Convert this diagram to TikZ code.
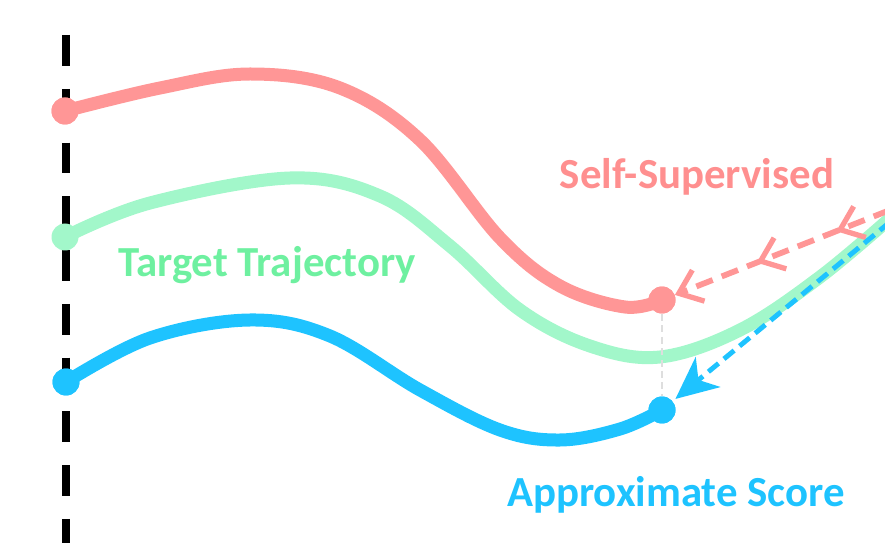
\documentclass[tikz,border=0pt]{standalone}
\usepackage{fontspec}
\setmainfont{Carlito}
\usepackage{tikz}
\usetikzlibrary{arrows.meta,decorations.markings}

\definecolor{trajpink}{RGB}{255,150,150}
\definecolor{trajgreen}{RGB}{162,247,202}
\definecolor{textgreen}{RGB}{110,240,160}
\definecolor{scoreblue}{RGB}{30,195,255}
\definecolor{guidegray}{RGB}{222,222,222}

\begin{document}
\begin{tikzpicture}[x=0.02cm,y=-0.02cm,
		traj/.style={line width=7.4pt,line cap=round,line join=round},
		dot/.style={circle,fill=#1,inner sep=0pt,minimum size=0.54cm},
		pbarb/.tip={Straight Barb[length=12pt,width=19pt,line width=3pt]},
		lbl/.style={font=\fontsize{24.4}{28}\selectfont\bfseries,text=#1,inner sep=0pt}]
			\useasboundingbox (0,0) rectangle (885,543);
			\clip (0,0) rectangle (885,543);
			% time axis
			\draw[line width=4.5pt,dash pattern=on 17.6pt off 13pt] (66,35) -- (66,560);
			% start and end points
			\node[dot=trajpink] (p0) at (65,111) {};
			\node[dot=trajpink] (p1) at (662,300) {};
			\node[dot=trajgreen,minimum size=0.5cm] (g0) at (65,237) {};
			\node[dot=scoreblue] (b0) at (66,382) {};
			\node[dot=scoreblue] (b1) at (662,410) {};
			\coordinate (g1) at (895,214);
			\coordinate (src) at (890,210);
			\coordinate (srcb) at (890,222);
			% trajectories
			\draw[traj,trajpink] plot[smooth,tension=0.6] coordinates {(p0.center) (160,88) (250,74) (340,88) (420,140) (500,238) (560,286) (625,307) (p1.center)};
			\draw[traj,trajgreen] plot[smooth,tension=0.6] coordinates {(g0.center) (150,203) (290,178) (380,196) (450,246) (520,310) (590,346) (660,357) (740,330) (820,277) (g1)};
			\draw[traj,scoreblue] plot[smooth,tension=0.6] coordinates {(b0.center) (150,338) (250,320) (330,336) (420,390) (500,430) (560,440) (620,429) (b1.center)};
			\draw[guidegray,line width=1.2pt,dash pattern=on 4pt off 2.5pt] (p1) -- (b1);
			% redraw dots on top
			\foreach \n/\c in {p0/trajpink,p1/trajpink,g0/trajgreen,b0/scoreblue,b1/scoreblue}
				\fill[\c] (\n) circle (0.27cm);
			% dashed arrows
			\draw[trajpink,line width=3.3pt,dash pattern=on 10pt off 5.5pt,
				-pbarb,
				postaction={decorate},
				decoration={markings,
					mark=at position 0.25 with {\arrow{pbarb}},
					mark=at position 0.62 with {\arrow{pbarb}}}]
				(src) -- (p1);
			\draw[scoreblue,line width=2.8pt,dash pattern=on 7.5pt off 4pt,
				-{Stealth[length=24pt,width=22pt,inset=7pt]},shorten >=2pt] (srcb) -- (b1);
			% labels
			\node[lbl=trajpink!95!red] (ss) at (697,177) {Self-Supervised};
			\node[lbl=textgreen] (tt) at (267,265) {Target Trajectory};
			\node[lbl=scoreblue] (as) at (676,495) {Approximate Score};
		\end{tikzpicture}
\end{document}
